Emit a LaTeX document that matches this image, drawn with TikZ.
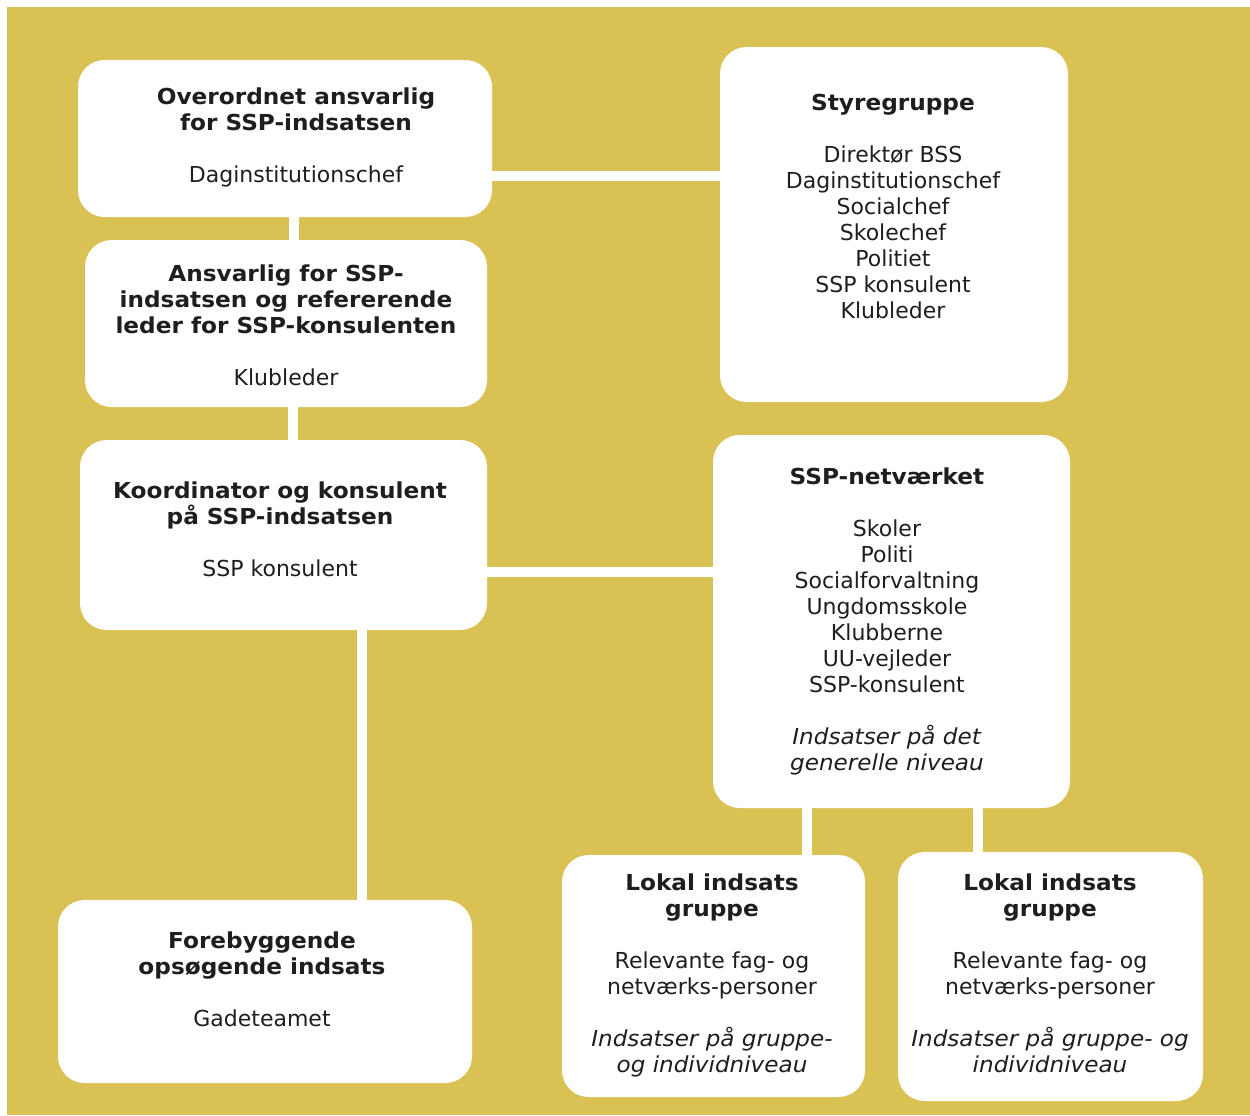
\documentclass[tikz,border=0pt]{standalone}
\usepackage{fontspec}
\setmainfont{DejaVu Sans}[BoldFeatures={FakeStretch=1.055},ItalicFeatures={FakeStretch=1.05}]
\definecolor{gold}{RGB}{218,193,84}
\definecolor{ink}{RGB}{30,30,30}
\tikzset{
  box/.style={fill=white, rounded corners=20pt, inner sep=0pt},
  txt/.style={align=center, text=ink, font=\fontsize{16.5}{19.5}\selectfont},
  link/.style={draw=white, line width=7pt}
}
\begin{document}
\begin{tikzpicture}[x=0.75pt,y=0.75pt,yscale=-1,xscale=1]
                \useasboundingbox (0,0) rectangle (1250,1115);
                
                %Shape: Background
                \fill[gold] (7,7) rectangle (1250,1115);
                
                %Shape: Rounded Rectangles
                \node[box, minimum width=310.5pt, minimum height=117.75pt] (over) at (285,138.5) {};
                \node[box, minimum width=261pt, minimum height=266.25pt] (styre) at (894,224.5) {};
                \node[box, minimum width=301.5pt, minimum height=125.25pt] (ansv) at (286,323.5) {};
                \node[box, minimum width=305.25pt, minimum height=142.5pt] (koord) at (283.5,535) {};
                \node[box, minimum width=267.75pt, minimum height=279.75pt] (netv) at (891.5,621.5) {};
                \node[box, minimum width=310.5pt, minimum height=137.25pt] (foreb) at (265,991.5) {};
                \node[box, minimum width=227.25pt, minimum height=181.5pt] (lokal1) at (713.5,976) {};
                \node[box, minimum width=228.75pt, minimum height=186.75pt] (lokal2) at (1050.5,976.5) {};
                
                %Straight Lines
                \draw[link] (over.east |- 0,176) -- (styre.west |- 0,176);
                \draw[link] (over.south -| 294,0) -- (ansv.north -| 294,0);
                \draw[link] (ansv.south -| 293,0) -- (koord.north -| 293,0);
                \draw[link] (koord.east |- 0,572) -- (netv.west |- 0,572);
                \draw[link] (koord.south -| 362,0) -- (foreb.north -| 362,0);
                \draw[link] (netv.south -| 807,0) -- (lokal1.north -| 807,0);
                \draw[link] (netv.south -| 978,0) -- (lokal2.north -| 978,0);
                
                % Text Node
                \node[txt] (over-t) at (296,137) {\textbf{Overordnet ansvarlig}\\\textbf{for SSP-indsatsen}\\[19.5pt]Daginstitutionschef};
                % Text Node
                \node[txt] (styre-t) at (893,206) {\textbf{Styregruppe}\\[19.5pt]Direktør BSS\\Daginstitutionschef\\Socialchef\\Skolechef\\Politiet\\SSP konsulent\\Klubleder};
                % Text Node
                \node[txt] (ansv-t) at (286,325) {\textbf{Ansvarlig for SSP-}\\\textbf{indsatsen og refererende}\\\textbf{leder for SSP-konsulenten}\\[19.5pt]Klubleder};
                % Text Node
                \node[txt] (koord-t) at (280,529) {\textbf{Koordinator og konsulent}\\\textbf{på SSP-indsatsen}\\[19.5pt]SSP konsulent};
                % Text Node
                \node[txt] (netv-t) at (887,621) {\textbf{SSP-netværket}\\[19.5pt]Skoler\\Politi\\Socialforvaltning\\Ungdomsskole\\Klubberne\\UU-vejleder\\SSP-konsulent\\[19.5pt]\textit{Indsatser på det}\\\textit{generelle niveau}};
                % Text Node
                \node[txt] (foreb-t) at (262,979) {\textbf{Forebyggende}\\\textbf{opsøgende indsats}\\[19.5pt]Gadeteamet};
                % Text Node
                \node[txt] (lokal1-t) at (712,975) {\textbf{Lokal indsats}\\\textbf{gruppe}\\[19.5pt]Relevante fag- og\\netværks-personer\\[19.5pt]\textit{Indsatser på gruppe-}\\\textit{og individniveau}};
                % Text Node
                \node[txt] (lokal2-t) at (1050,973) {\textbf{Lokal indsats}\\\textbf{gruppe}\\[19.5pt]Relevante fag- og\\netværks-personer\\[19.5pt]\textit{Indsatser på gruppe- og}\\\textit{individniveau}};
                
                \end{tikzpicture}
\end{document}
